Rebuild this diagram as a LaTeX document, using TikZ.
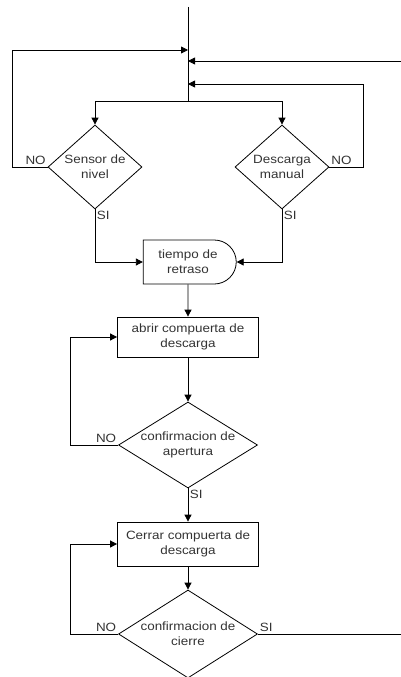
\documentclass[tikz,border=0pt]{standalone}
\usepackage{fontspec}
\setmainfont{Liberation Sans}[FakeStretch=1.12]
\usepackage{tikz}
\usetikzlibrary{shapes.geometric,shapes.misc,arrows.meta}

\begin{document}
\begin{tikzpicture}
    [x=1pt, y=-1pt, line width=0.8pt,
      every node/.style={font=\fontsize{12}{15}\selectfont, text=black!80},
      every label/.style={align=center},
      proc/.style={rectangle, draw, align=center, minimum width=141pt, inner sep=0pt},
      decision/.style={diamond, draw, inner sep=0pt},
      delaybox/.style={rounded rectangle, rounded rectangle left arc=none, draw,
        align=center, minimum width=93pt, minimum height=44pt, inner sep=0pt},
      lbl/.style={inner sep=1.5pt},
      flow/.style={-{Triangle[length=7pt,width=7pt]}}]
    \useasboundingbox (0,0) rectangle (401,677);
    % entrada y uniones
    \coordinate (top) at (188,7);
    \coordinate (j1) at (188,50);
    \coordinate (j2) at (188,61);
    \coordinate (j3) at (188,84);
    \coordinate (split) at (188,101);
    \coordinate (ext) at (401,61);
    \coordinate (fin) at (401,634);
    % nodos
    \node[decision, minimum width=94pt, minimum height=84pt,
      label=center:{Sensor de\\nivel}] (sensor) at (95,167) {};
    \node[decision, minimum width=94pt, minimum height=84pt,
      label=center:{Descarga\\manual}] (manual) at (282,167) {};
    \node[delaybox] (retraso) at (188,262) {tiempo de\\retraso};
    \node[proc, minimum height=40pt] (abrir) at (188,337) {abrir compuerta de\\descarga};
    \node[decision, minimum width=139pt, minimum height=86pt,
      label=center:{confirmacion de\\apertura}] (apertura) at (188,445) {};
    \node[proc, minimum height=44pt] (cerrar) at (188,544) {Cerrar compuerta de\\descarga};
    \node[decision, minimum width=139pt, minimum height=88pt,
      label=center:{confirmacion de\\cierre}] (cierre) at (188,634) {};
    % conexiones
    \draw (top) -- (split);
    \draw[flow] (split) -| (sensor.north);
    \draw[flow] (split) -| (manual.north);
    \draw[flow] (sensor.west) node[lbl, above left] {NO} -- (12,167) |- (j1);
    \draw[flow] (ext) -- (j2);
    \draw[flow] (manual.east) node[lbl, above right] {NO} -- (363,167) |- (j3);
    \draw[flow] (sensor.south) node[lbl, below right] {SI} |- (retraso.west);
    \draw[flow] (manual.south) node[lbl, below right] {SI} |- (retraso.east);
    \draw[flow] (retraso) -- (abrir);
    \draw[flow] (abrir) -- (apertura);
    \draw[flow] (apertura.west) node[lbl, above left] {NO} -- (70,445) |- (abrir.west);
    \draw[flow] (apertura.south) node[lbl, below right] {SI} -- (cerrar.north);
    \draw[flow] (cerrar) -- (cierre);
    \draw[flow] (cierre.west) node[lbl, above left] {NO} -- (70,634) |- (cerrar.west);
    \draw (cierre.east) node[lbl, above right] {SI} -- (fin);
\end{tikzpicture}
\end{document}
